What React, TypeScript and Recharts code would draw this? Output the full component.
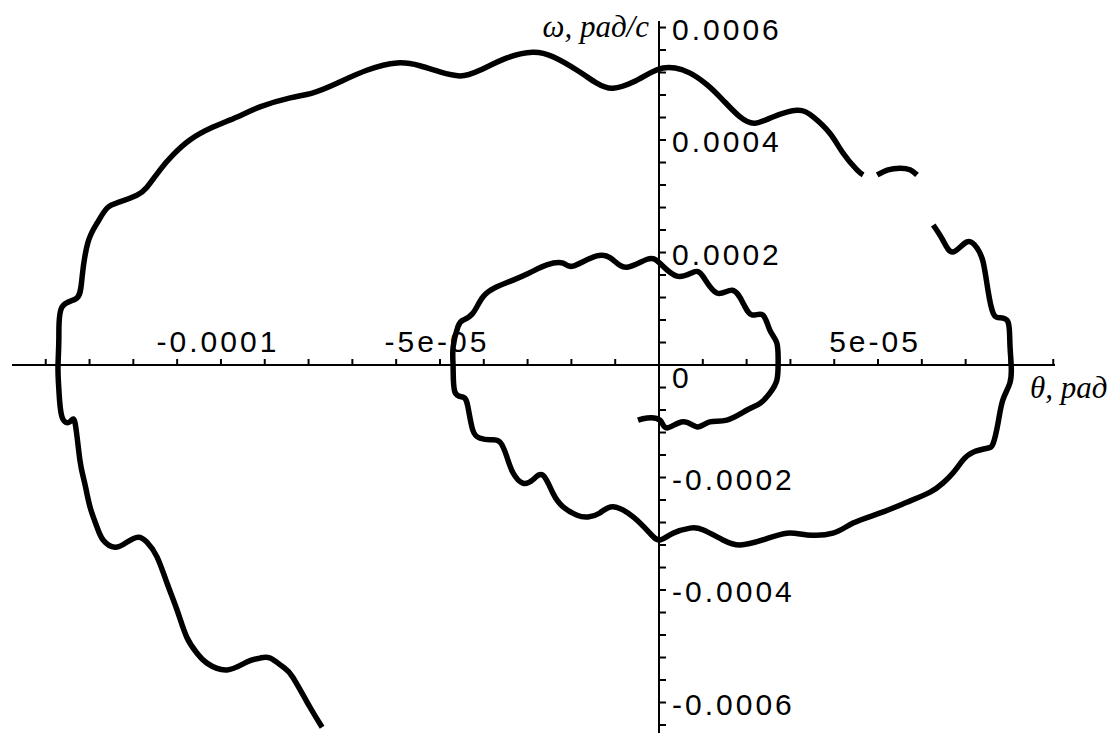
import React from "react";
import {
  LineChart,
  Line,
  XAxis,
  YAxis,
  ReferenceLine,
  ReferenceDot,
} from "recharts";

// outer arm, up to where the white patch cuts it
const thetaOuter = [
  -7.69e-5, -7.97e-5, -8.36e-5, -8.58e-5, -8.88e-5, -9.11e-5, -9.41e-5, -9.86e-5, -10.32e-5, -10.55e-5,
  -10.78e-5, -11.0e-5, -11.23e-5, -11.46e-5, -11.69e-5, -11.89e-5, -12.15e-5, -12.42e-5, -12.69e-5, -12.83e-5,
  -12.99e-5, -13.11e-5, -13.22e-5, -13.33e-5, -13.45e-5, -13.63e-5, -13.7e-5, -13.72e-5, -13.7e-5, -13.63e-5,
  -13.29e-5, -13.17e-5, -13.04e-5, -12.83e-5, -12.6e-5, -12.31e-5, -11.92e-5, -11.69e-5, -11.39e-5, -11.1e-5,
  -10.71e-5, -10.18e-5, -9.63e-5, -9.11e-5, -8.42e-5, -7.9e-5, -7.35e-5, -6.67e-5, -5.98e-5, -5.46e-5,
  -5.0e-5, -4.54e-5, -4.09e-5, -3.47e-5, -2.88e-5, -2.42e-5, -1.87e-5, -1.42e-5, -1.05e-5, -0.59e-5,
  -0.21e-5, 0.09e-5, 0.37e-5, 0.71e-5, 1.1e-5, 1.46e-5, 1.85e-5, 2.19e-5, 2.6e-5, 3.15e-5,
  3.52e-5, 3.9e-5, 4.2e-5, 4.52e-5, 4.66e-5,
];
const omegaOuter = [
  -6.44e-4, -6.08e-4, -5.55e-4, -5.37e-4, -5.21e-4, -5.21e-4, -5.28e-4, -5.42e-4, -5.3e-4, -5.12e-4,
  -4.84e-4, -4.36e-4, -3.88e-4, -3.41e-4, -3.15e-4, -3.06e-4, -3.15e-4, -3.24e-4, -3.11e-4, -2.88e-4,
  -2.52e-4, -2.1e-4, -1.69e-4, -1.03e-4, -1.01e-4, -0.92e-4, -0.44e-4, -0.04e-4, 0.5e-4, 1.03e-4,
  1.19e-4, 1.56e-4, 2.17e-4, 2.52e-4, 2.79e-4, 2.9e-4, 3.02e-4, 3.16e-4, 3.47e-4, 3.73e-4,
  4.0e-4, 4.23e-4, 4.41e-4, 4.59e-4, 4.75e-4, 4.84e-4, 5.01e-4, 5.24e-4, 5.37e-4, 5.32e-4,
  5.21e-4, 5.14e-4, 5.24e-4, 5.46e-4, 5.56e-4, 5.48e-4, 5.24e-4, 5.01e-4, 4.92e-4, 5.03e-4,
  5.19e-4, 5.28e-4, 5.28e-4, 5.19e-4, 4.98e-4, 4.71e-4, 4.41e-4, 4.3e-4, 4.41e-4, 4.53e-4,
  4.41e-4, 4.12e-4, 3.77e-4, 3.47e-4, 3.38e-4,
];

// small bump that shows above the patch
const thetaHump = [4.98e-5, 5.23e-5, 5.5e-5, 5.73e-5, 5.89e-5];
const omegaHump = [3.38e-4, 3.47e-4, 3.5e-4, 3.47e-4, 3.38e-4];

// rest of the spiral, winding in
const thetaInner = [
  6.26e-5, 6.48e-5, 6.71e-5, 7.03e-5, 7.26e-5, 7.4e-5, 7.51e-5, 7.63e-5, 7.79e-5, 7.97e-5,
  8.01e-5, 8.04e-5, 8.01e-5, 7.85e-5, 7.74e-5, 7.63e-5, 7.49e-5, 7.17e-5, 6.94e-5, 6.71e-5,
  6.48e-5, 6.19e-5, 5.66e-5, 5.05e-5, 4.43e-5, 3.97e-5, 3.38e-5, 2.92e-5, 2.37e-5, 1.85e-5,
  1.46e-5, 1.0e-5, 0.71e-5, 0.32e-5, 0.02e-5, -0.21e-5, -0.59e-5, -1.05e-5, -1.35e-5, -1.62e-5,
  -1.87e-5, -2.19e-5, -2.42e-5, -2.65e-5, -2.88e-5, -3.11e-5, -3.33e-5, -3.47e-5, -3.63e-5, -3.86e-5,
  -4.09e-5, -4.25e-5, -4.36e-5, -4.47e-5, -4.66e-5, -4.7e-5, -4.7e-5, -4.59e-5, -4.47e-5, -4.25e-5,
  -4.02e-5, -3.7e-5, -3.33e-5, -2.95e-5, -2.56e-5, -2.19e-5, -1.96e-5, -1.42e-5, -1.05e-5, -0.73e-5,
  -0.27e-5, 0.02e-5, 0.41e-5, 0.78e-5, 1.0e-5, 1.32e-5, 1.67e-5, 1.92e-5, 2.12e-5, 2.37e-5,
  2.53e-5, 2.69e-5, 2.72e-5, 2.69e-5, 2.53e-5, 2.31e-5, 2.01e-5, 1.55e-5, 1.16e-5, 0.87e-5,
  0.55e-5, 0.18e-5, 0.02e-5, -0.27e-5, -0.48e-5,
];
const omegaInner = [
  2.49e-4, 2.22e-4, 2.01e-4, 2.19e-4, 2.08e-4, 1.83e-4, 1.33e-4, 0.92e-4, 0.84e-4, 0.76e-4,
  0.39e-4, 0.0, -0.32e-4, -0.62e-4, -1.03e-4, -1.39e-4, -1.48e-4, -1.55e-4, -1.69e-4, -1.92e-4,
  -2.1e-4, -2.26e-4, -2.44e-4, -2.63e-4, -2.81e-4, -2.99e-4, -3.02e-4, -2.99e-4, -3.11e-4, -3.2e-4,
  -3.11e-4, -2.93e-4, -2.9e-4, -2.99e-4, -3.11e-4, -2.99e-4, -2.7e-4, -2.52e-4, -2.63e-4, -2.7e-4,
  -2.67e-4, -2.52e-4, -2.28e-4, -1.96e-4, -2.04e-4, -2.1e-4, -1.92e-4, -1.64e-4, -1.37e-4, -1.33e-4,
  -1.3e-4, -1.16e-4, -0.75e-4, -0.57e-4, -0.48e-4, -0.04e-4, 0.32e-4, 0.68e-4, 0.8e-4, 0.92e-4,
  1.21e-4, 1.39e-4, 1.51e-4, 1.64e-4, 1.78e-4, 1.81e-4, 1.76e-4, 1.94e-4, 1.87e-4, 1.74e-4,
  1.88e-4, 1.81e-4, 1.58e-4, 1.65e-4, 1.58e-4, 1.28e-4, 1.33e-4, 1.1e-4, 0.89e-4, 0.89e-4,
  0.62e-4, 0.39e-4, 0.04e-4, -0.27e-4, -0.5e-4, -0.68e-4, -0.8e-4, -0.98e-4, -1.01e-4, -1.1e-4,
  -1.01e-4, -1.12e-4, -0.98e-4, -0.94e-4, -0.98e-4,
];

const xLabelTicks = [-1e-4, -5e-5, 5e-5];
const xLabels = ["-0.0001", "-5e-05", "5e-05"];
const xMinorTicks = [
  -1.4e-4, -1.3e-4, -1.2e-4, -1.1e-4, -1e-4, -9e-5, -8e-5, -7e-5, -6e-5, -5e-5, -4e-5, -3e-5,
  -2e-5, -1e-5, 1e-5, 2e-5, 3e-5, 4e-5, 5e-5, 6e-5, 7e-5, 8e-5, 9e-5,
];
const yLabelTicks = [6e-4, 4e-4, 2e-4, -2e-4, -4e-4, -6e-4];
const yLabels = ["0.0006", "0.0004", "0.0002", "-0.0002", "-0.0004", "-0.0006"];
const yMinorTicks = Array.from({ length: 32 }, (_, i) => Math.round((6e-4 - i * 4e-5) * 1e6) / 1e6).filter(
  (v) => v !== 0
);

const X_DOMAIN = [-1.477e-4, 9.04e-5];
const Y_DOMAIN = [-6.542e-4, 6.116e-4];

const toPoints = (xs: number[], ys: number[]) => xs.map((x, i) => ({ x, y: ys[i] }));

const numFont = {
  fontFamily: "'Liberation Sans', Arial, sans-serif",
  fontSize: 30,
  letterSpacing: 3,
  fill: "#000",
};
const titleFont = {
  fontFamily: "'Liberation Serif', 'Times New Roman', serif",
  fontStyle: "italic",
  fontSize: 31,
  fill: "#000",
};

export default function App() {
  const outer = toPoints(thetaOuter, omegaOuter);
  const hump = toPoints(thetaHump, omegaHump);
  const inner = toPoints(thetaInner, omegaInner);

  const lineProps = {
    dataKey: "y",
    type: "natural" as const,
    stroke: "#000",
    strokeWidth: 5.5,
    strokeLinejoin: "round" as const,
    strokeLinecap: "butt" as const,
    dot: false,
    activeDot: false,
    isAnimationActive: false,
  };

  return (
    <div style={{ position: "absolute", left: 0, top: 0, background: "#fff" }}>
      <LineChart width={1118} height={733} margin={{ top: 21, right: 63, bottom: 0, left: 12 }}>
        <XAxis type="number" dataKey="x" domain={X_DOMAIN} allowDataOverflow hide />
        <YAxis type="number" domain={Y_DOMAIN} allowDataOverflow hide />
        <ReferenceLine y={0} stroke="#000" strokeWidth={2} />
        <ReferenceLine x={0} stroke="#000" strokeWidth={2} />
        {xMinorTicks.map((v) => (
          <ReferenceDot
            key={"xt" + v}
            x={v}
            y={0}
            r={0}
            shape={(p: any) => (
              <line x1={p.cx} y1={p.cy} x2={p.cx} y2={p.cy - 6} stroke="#000" strokeWidth={2} />
            )}
          />
        ))}
        {yMinorTicks.map((v) => (
          <ReferenceDot
            key={"yt" + v}
            x={0}
            y={v}
            r={0}
            shape={(p: any) => (
              <line x1={p.cx} y1={p.cy} x2={p.cx + 7} y2={p.cy} stroke="#000" strokeWidth={2} />
            )}
          />
        ))}
        {xLabelTicks.map((v, i) => (
          <ReferenceDot
            key={"xl" + v}
            x={v}
            y={0}
            r={0}
            shape={(p: any) => (
              <text x={p.cx - 3} y={p.cy - 13} textAnchor="middle" style={numFont}>
                {xLabels[i]}
              </text>
            )}
          />
        ))}
        {yLabelTicks.map((v, i) => (
          <ReferenceDot
            key={"yl" + v}
            x={0}
            y={v}
            r={0}
            shape={(p: any) => (
              <text x={p.cx + 13} y={p.cy + 12} textAnchor="start" style={numFont}>
                {yLabels[i]}
              </text>
            )}
          />
        ))}
        <ReferenceDot
          x={0}
          y={0}
          r={0}
          shape={(p: any) => (
            <text x={p.cx + 13} y={p.cy + 23} textAnchor="start" style={numFont}>
              0
            </text>
          )}
        />
        <ReferenceDot
          x={0}
          y={Y_DOMAIN[1]}
          r={0}
          shape={(p: any) => (
            <text x={p.cx - 10} y={p.cy + 16} textAnchor="end" style={titleFont}>
              ω, рад/с
            </text>
          )}
        />
        <ReferenceDot
          x={X_DOMAIN[1]}
          y={0}
          r={0}
          shape={(p: any) => (
            <text x={p.cx - 25} y={p.cy + 33} textAnchor="start" style={titleFont}>
              θ, рад
            </text>
          )}
        />
        <Line {...lineProps} data={outer} />
        <Line {...lineProps} data={hump} />
        <Line {...lineProps} data={inner} />
      </LineChart>
    </div>
  );
}
